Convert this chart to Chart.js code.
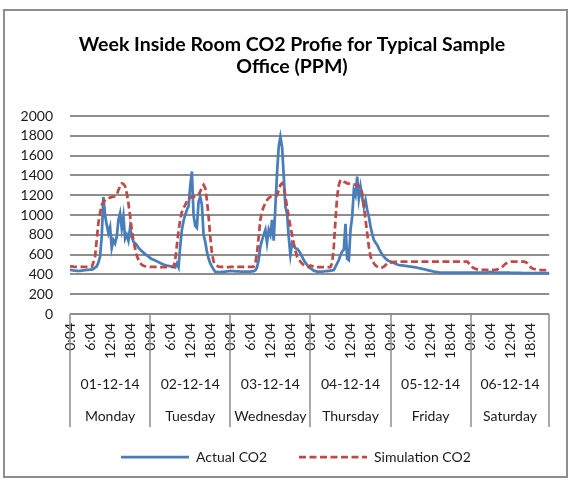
<!DOCTYPE html>
<html>
<head>
<meta charset="utf-8">
<script src="https://cdn.jsdelivr.net/npm/chart.js@4.4.1/dist/chart.umd.min.js"></script>
<style>
  html, body { margin: 0; padding: 0; background: #fff; }
  #wrap { width: 575px; height: 484px; }
</style>
</head>
<body>
<div id="wrap"><canvas id="co2Chart" width="575" height="484"></canvas></div>
<script>
// one value every 30 minutes, 48 per day
const dates = ['01-12-14', '02-12-14', '03-12-14', '04-12-14', '05-12-14', '06-12-14'];
const dayNames = ['Monday', 'Tuesday', 'Wednesday', 'Thursday', 'Friday', 'Saturday'];
const timeTicks = ['0:04', '6:04', '12:04', '18:04'];
const titleLines = ['Week Inside Room CO2 Profie for Typical Sample', 'Office (PPM)'];

const actualMon = [445,443,440,438,436,435,436,438,440,442,445,446,447,448,455,470,480,520,580,780,1180,1000,900,818,880,667,747,714,781,950,1017,865,985,760,800,740,870,780,730,715,697,670,650,635,620,605,592,580];
const actualTue = [565,556,548,540,532,524,516,508,500,495,490,486,482,478,474,470,510,472,680,850,940,1000,1050,1090,1290,1440,1000,890,870,1134,1185,1100,800,730,630,560,510,478,450,427,424,423,424,425,426,428,430,432];
const actualWed = [435,433,432,430,430,430,428,428,428,428,428,428,428,430,432,440,470,545,680,747,800,850,720,850,800,950,740,1084,1421,1690,1790,1690,1400,1084,1017,780,600,715,690,663,660,640,613,580,545,520,495,475];
const actualThu = [461,450,438,433,428,428,428,429,430,432,434,436,438,440,444,478,512,545,596,630,650,910,560,545,850,983,1250,1200,1387,1168,1286,1180,1084,1150,1050,983,882,810,747,720,697,660,630,600,579,560,545,535];
const actualFri = [529,522,515,508,500,495,492,490,488,485,483,480,478,476,473,470,467,463,460,456,452,448,444,440,436,432,428,425,422,420,419,418,418,418,418,418,418,418,418,418,418,418,418,418,418,418,418,418];
const actualSat = [418,418,418,418,418,418,418,418,418,418,420,423,426,424,421,419,418,418,418,418,418,418,417,417,416,416,416,415,415,415,415,414,414,414,414,413,413,413,413,413,412,412,412,412,412,412,412,412];

const simMon = [480,480,478,477,476,475,475,475,475,475,476,476,477,478,520,579,750,920,1020,1101,1130,1150,1168,1172,1176,1180,1185,1190,1205,1252,1290,1320,1315,1290,1220,1118,990,850,740,660,590,545,515,498,488,482,479,477];
const simTue = [476,476,475,475,474,474,474,474,474,474,474,474,475,476,480,545,690,840,950,1030,1070,1101,1140,1168,1175,1180,1185,1185,1185,1205,1235,1285,1305,1270,1151,983,781,616,530,500,488,478,476,475,475,474,474,474];
const simWed = [476,476,476,476,476,476,476,476,476,476,476,476,476,476,478,512,613,780,950,1034,1084,1120,1151,1170,1185,1188,1190,1192,1200,1252,1303,1320,1290,1185,1084,980,882,800,714,640,579,550,529,510,495,485,478,475];
const simThu = [490,484,478,475,474,474,474,474,474,474,474,474,474,512,680,950,1185,1303,1354,1345,1335,1330,1320,1318,1315,1312,1310,1305,1303,1295,1280,1219,1084,950,815,680,579,540,512,490,478,470,468,470,478,495,512,520];
const simFri = [520,524,526,527,528,528,528,528,528,528,528,528,528,528,528,528,528,528,528,528,528,528,528,528,528,528,528,528,528,528,528,528,528,528,528,528,528,528,528,528,528,528,528,528,528,528,528,510];
const simSat = [490,472,462,455,451,448,445,445,445,445,445,445,445,445,445,446,450,458,468,478,495,508,519,525,528,529,529,529,529,529,529,529,529,522,512,490,471,460,454,450,446,445,444,444,444,444,444,444];

const actualCO2 = [].concat(actualMon, actualTue, actualWed, actualThu, actualFri, actualSat);
const simulationCO2 = [].concat(simMon, simTue, simWed, simThu, simFri, simSat);
const slotsPerDay = actualMon.length;

// category labels, one per half hour
const slotLabels = [];
dates.forEach(() => {
    for (let k = 0; k < slotsPerDay; k++) {
        const h = Math.floor(k / 2);
        slotLabels.push(h + (k % 2 ? ':34' : ':04'));
    }
});

const gridColor = '#8e8e8e';
const textColor = '#1a1a1a';
const fontFamily = 'Lato, "Open Sans", sans-serif';

// title, date / day rows under the time ticks, the legend and the outer frame
const dayAxisPlugin = {
    id: 'dayAxis',
    afterDraw(chart) {
        const ctx = chart.ctx;
        const xs = chart.scales.x;
        const area = chart.chartArea;
        const bounds = [];
        for (let d = 0; d < dates.length; d++) bounds.push(xs.getPixelForValue(d * slotsPerDay));
        bounds.push(area.right);

        ctx.save();
        ctx.fillStyle = '#000';
        ctx.font = 'bold 19.5px ' + fontFamily;
        ctx.textAlign = 'center';
        ctx.textBaseline = 'middle';
        titleLines.forEach((t, i) => ctx.fillText(t, 292, 45 + i * 22));

        ctx.strokeStyle = gridColor;
        ctx.lineWidth = 1.5;
        bounds.forEach(px => {
            ctx.beginPath();
            ctx.moveTo(Math.round(px), area.bottom);
            ctx.lineTo(Math.round(px), area.bottom + 113);
            ctx.stroke();
        });

        ctx.fillStyle = textColor;
        ctx.font = '14px ' + fontFamily;
        for (let d = 0; d < dates.length; d++) {
            const cx = (bounds[d] + bounds[d + 1]) / 2;
            ctx.fillText(dates[d], cx, area.bottom + 70);
            ctx.fillText(dayNames[d], cx, area.bottom + 102);
        }

        // legend
        const ly = 457;
        const items = [
            { label: 'Actual CO2', color: '#4a7ebb', dash: [], x: 121 },
            { label: 'Simulation CO2', color: '#be4b48', dash: [7, 3.5], x: 299 }
        ];
        ctx.textAlign = 'left';
        items.forEach(it => {
            ctx.strokeStyle = it.color;
            ctx.lineWidth = 2.75;
            ctx.setLineDash(it.dash);
            ctx.beginPath();
            ctx.moveTo(it.x, ly);
            ctx.lineTo(it.x + 68, ly);
            ctx.stroke();
            ctx.setLineDash([]);
            ctx.fillText(it.label, it.x + 75, ly);
        });

        // outer frame
        ctx.strokeStyle = gridColor;
        ctx.lineWidth = 2;
        ctx.strokeRect(4, 10, 563, 467);
        ctx.restore();
    }
};

new Chart(document.getElementById('co2Chart'), {
    type: 'line',
    data: {
        labels: slotLabels,
        datasets: [
            {
                label: 'Actual CO2',
                data: actualCO2,
                borderColor: '#4a7ebb',
                backgroundColor: '#4a7ebb',
                borderWidth: 2.75,
                pointRadius: 0,
                tension: 0,
                fill: false,
                order: 1
            },
            {
                label: 'Simulation CO2',
                data: simulationCO2,
                borderColor: '#be4b48',
                backgroundColor: '#be4b48',
                borderWidth: 2.75,
                borderDash: [7, 3.5],
                pointRadius: 0,
                tension: 0,
                fill: false,
                order: 0
            }
        ]
    },
    options: {
        responsive: false,
        animation: false,
        devicePixelRatio: 1,
        layout: { padding: { left: 10, right: 25, top: 116, bottom: 40 } },
        plugins: {
            legend: { display: false },
            tooltip: { enabled: false },
            title: { display: false }
        },
        scales: {
            x: {
                type: 'category',
                grid: { display: false, drawTicks: false },
                border: { display: false },
                ticks: {
                    autoSkip: false,
                    minRotation: 90,
                    maxRotation: 90,
                    padding: 9,
                    color: textColor,
                    font: { family: fontFamily, size: 14 },
                    callback: function(value) {
                        const l = this.getLabelForValue(value);
                        return timeTicks.includes(l) ? l : '';
                    }
                },
                afterFit: function(scale) { scale.height = 130; }
            },
            y: {
                min: 0,
                max: 2000,
                ticks: {
                    stepSize: 200,
                    autoSkip: false,
                    padding: 17,
                    color: textColor,
                    font: { family: fontFamily, size: 14 },
                    callback: value => String(value)
                },
                grid: { color: gridColor, lineWidth: 2, drawTicks: false },
                border: { display: false },
                afterFit: function(scale) { scale.width = 60; }
            }
        }
    },
    plugins: [dayAxisPlugin]
});
</script>
</body>
</html>
